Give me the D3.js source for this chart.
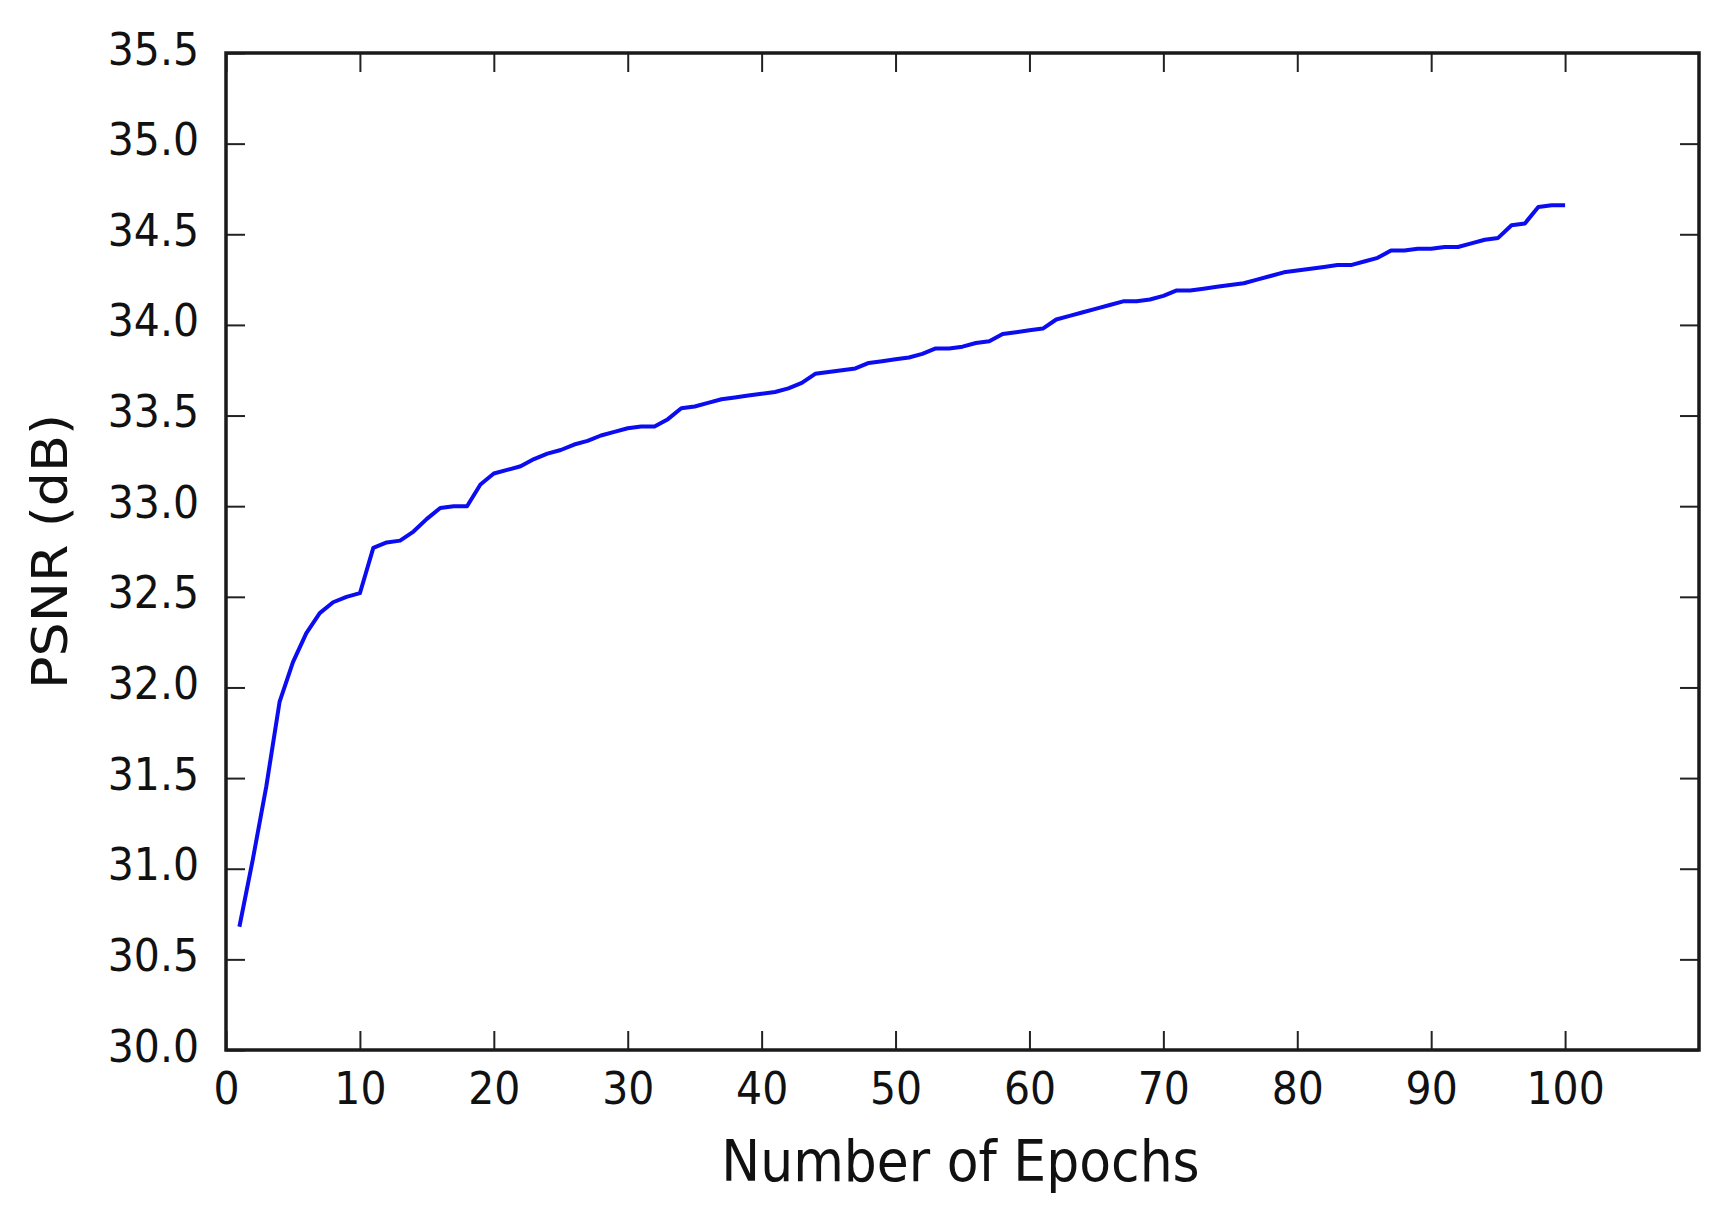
<!DOCTYPE html>
<html>
<head>
<meta charset="utf-8">
<script src="https://cdn.jsdelivr.net/npm/d3@7"></script>
<style>
  html, body { margin: 0; padding: 0; background: #fff; }
  svg { display: block; }
  text { font-family: "DejaVu Sans", sans-serif; fill: #111; }
</style>
</head>
<body>
<div id="chart"></div>
<script>
// ---- data ----
const epochs = d3.range(1, 101);
const psnr = [
  30.68, 31.05, 31.45, 31.92, 32.14, 32.30, 32.41, 32.47, 32.50, 32.52,
  32.77, 32.80, 32.81, 32.86, 32.93, 32.99, 33.00, 33.00, 33.12, 33.18,
  33.20, 33.22, 33.26, 33.29, 33.31, 33.34, 33.36, 33.39, 33.41, 33.43,
  33.44, 33.44, 33.48, 33.54, 33.55, 33.57, 33.59, 33.60, 33.61, 33.62,
  33.63, 33.65, 33.68, 33.73, 33.74, 33.75, 33.76, 33.79, 33.80, 33.81,
  33.82, 33.84, 33.87, 33.87, 33.88, 33.90, 33.91, 33.95, 33.96, 33.97,
  33.98, 34.03, 34.05, 34.07, 34.09, 34.11, 34.13, 34.13, 34.14, 34.16,
  34.19, 34.19, 34.20, 34.21, 34.22, 34.23, 34.25, 34.27, 34.29, 34.30,
  34.31, 34.32, 34.33, 34.33, 34.35, 34.37, 34.41, 34.41, 34.42, 34.42,
  34.43, 34.43, 34.45, 34.47, 34.48, 34.55, 34.56, 34.65, 34.66, 34.66
];
const xTicks = [0, 10, 20, 30, 40, 50, 60, 70, 80, 90, 100];
const yTicks = [30.0, 30.5, 31.0, 31.5, 32.0, 32.5, 33.0, 33.5, 34.0, 34.5, 35.0, 35.5];
const xDomain = [0, 110];
const yDomain = [30.0, 35.5];
const xLabel = "Number of Epochs";
const yLabel = "PSNR (dB)";

// ---- layout ----
const W = 1736, H = 1219;
const L = 226, R = 1699, T = 53, B = 1050;
const stretch = 1.1;

const svg = d3.select("#chart").append("svg").attr("width", W).attr("height", H);

const x = d3.scaleLinear().domain(xDomain).range([L, R]);
const y = d3.scaleLinear().domain(yDomain).range([B, T]);

const tickLen = 19;
// bottom axis ticks (inward) + labels
const gx = svg.append("g").attr("transform", `translate(0,${B})`)
  .call(d3.axisBottom(x).tickValues(xTicks).tickSizeInner(-tickLen).tickSizeOuter(0).tickFormat(d3.format("d")));
gx.select(".domain").remove();
gx.selectAll(".tick line").attr("stroke", "#222").attr("stroke-width", 2);
gx.selectAll(".tick text")
  .attr("y", null).attr("dy", null)
  .attr("transform", `translate(0,54) scale(1,${stretch})`)
  .attr("font-size", 41).attr("fill", "#111");

// top ticks
const gt = svg.append("g").attr("transform", `translate(0,${T})`)
  .call(d3.axisTop(x).tickValues(xTicks).tickSizeInner(-tickLen).tickSizeOuter(0).tickFormat(""));
gt.select(".domain").remove();
gt.selectAll(".tick line").attr("stroke", "#222").attr("stroke-width", 2);

// left axis
const gy = svg.append("g").attr("transform", `translate(${L},0)`)
  .call(d3.axisLeft(y).tickValues(yTicks).tickSizeInner(-tickLen).tickSizeOuter(0).tickFormat(d3.format(".1f")));
gy.select(".domain").remove();
gy.selectAll(".tick line").attr("stroke", "#222").attr("stroke-width", 2);
gy.selectAll(".tick text")
  .attr("x", null).attr("dy", null)
  .attr("transform", `translate(-27,11) scale(1,${stretch})`)
  .attr("font-size", 41).attr("fill", "#111");

// right ticks
const gr = svg.append("g").attr("transform", `translate(${R},0)`)
  .call(d3.axisRight(y).tickValues(yTicks).tickSizeInner(-tickLen).tickSizeOuter(0).tickFormat(""));
gr.select(".domain").remove();
gr.selectAll(".tick line").attr("stroke", "#222").attr("stroke-width", 2);

// frame
svg.append("rect")
  .attr("x", L).attr("y", T).attr("width", R - L).attr("height", B - T)
  .attr("fill", "none").attr("stroke", "#1a1a1a").attr("stroke-width", 3.5);

// line
const line = d3.line().x((d, i) => x(epochs[i])).y(d => y(d));
svg.append("path")
  .datum(psnr)
  .attr("d", line)
  .attr("fill", "none")
  .attr("stroke", "#0c0cf0")
  .attr("stroke-width", 4)
  .attr("stroke-linejoin", "round");

// axis labels
svg.append("text")
  .attr("transform", `translate(${(L + R) / 2 - 2},1181) scale(1,${stretch})`)
  .attr("text-anchor", "middle")
  .attr("font-size", 52)
  .text(xLabel);

svg.append("text")
  .attr("transform", `translate(67,${(T + B) / 2}) scale(1,${stretch}) rotate(-90)`)
  .attr("text-anchor", "middle")
  .attr("font-size", 49)
  .text(yLabel);
</script>
</body>
</html>
